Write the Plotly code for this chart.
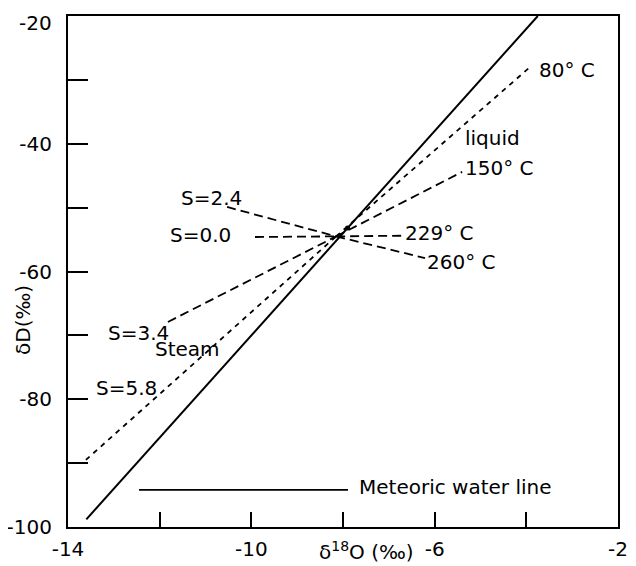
import plotly.graph_objects as go

# ---- data ----
mwl_x = [-13.6, -3.75]
mwl_y = [-98.8, -20.0]

center_x = -8.15
center_y = -54.5
dot_x = [-7.9]
dot_y = [-53.2]

liquid_labels = ["80° C", "150° C", "229° C", "260° C"]
liquid_x = [-3.92, -5.40, -6.71, -6.21]
liquid_y = [-28.0, -44.4, -54.4, -57.9]

steam_labels = ["S=5.8", "S=3.4", "S=0.0", "S=2.4"]
steam_x = [-13.61, -11.82, -9.92, -10.53]
steam_y = [-89.5, -67.9, -54.6, -49.9]

short_dash = [True, False, False, False]   # 80°C / S=5.8 drawn with finer dashes

x_ticks = [-14, -12, -10, -8, -6, -4, -2]
x_ticktext = ["-14", "", "-10", "", "-6", "", "-2"]
y_ticks = [-100, -90, -80, -70, -60, -50, -40, -30, -20]
y_ticktext = ["-100", "", "-80", "", "-60", "", "-40", "", ""]
y_top_label = "-20"   # drawn slightly below the top edge, as in the original

legend_x = [-12.45, -7.89]
legend_y = [-94.2, -94.2]

FONT = "DejaVu Sans"

fig = go.Figure()

# meteoric water line
fig.add_trace(go.Scatter(x=mwl_x, y=mwl_y, mode="lines",
                         line=dict(color="black", width=2), showlegend=False))

SHORT = "5px,5px"
LONG = "9px,5px"
# liquid branches
for lx, ly, sd in zip(liquid_x, liquid_y, short_dash):
    fig.add_trace(go.Scatter(x=[center_x, lx], y=[center_y, ly], mode="lines",
                             line=dict(color="black", width=1.8,
                                       dash=SHORT if sd else LONG),
                             showlegend=False))
# steam branches
for sx, sy, sd in zip(steam_x, steam_y, short_dash):
    fig.add_trace(go.Scatter(x=[sx, center_x], y=[sy, center_y], mode="lines",
                             line=dict(color="black", width=1.8,
                                       dash=SHORT if sd else LONG),
                             showlegend=False))

# intersection dot
fig.add_trace(go.Scatter(x=dot_x, y=dot_y, mode="markers",
                         marker=dict(color="black", size=5), showlegend=False))

# legend sample line
fig.add_trace(go.Scatter(x=legend_x, y=legend_y, mode="lines",
                         line=dict(color="black", width=1.8), showlegend=False))

ann = []
def add(text, x, y, xanchor="center", size=20):
    ann.append(dict(text=text, x=x, y=y, xref="x", yref="y", showarrow=False,
                    xanchor=xanchor, yanchor="middle",
                    font=dict(family=FONT, size=size, color="black")))

add("S=2.4", -10.86, -48.5)
add("S=0.0", -11.12, -54.3)
add("S=3.4", -12.47, -69.6)
add("Steam", -11.40, -72.1)
add("S=5.8", -12.73, -78.2)
add("80° C", -3.77, -28.5, "left")
add("liquid", -5.38, -39.1, "left")
add("150° C", -5.38, -43.8, "left")
add("229° C", -6.69, -54.0, "left")
add("260° C", -6.21, -58.5, "left")
add("Meteoric water line", -7.69, -93.7, "left")

# page body has an 8px margin, so the figure is drawn offset by (8, 8)
OFF = 8
W, H = 636 - OFF, 566 - OFF
ml, mt = 68 - OFF, 16 - OFF
mr = W - (618 - OFF)
mb = H - (527 - OFF)
pw, ph = W - ml - mr, H - mt - mb

def px_to_paper(sx, sy):
    fx, fy = sx - OFF, sy - OFF
    return (fx - ml) / pw, (H - mb - fy) / ph

tx, ty = px_to_paper(23, 320)
ann.append(dict(text="δD(‰)", x=tx, y=ty,
                xref="paper", yref="paper", xanchor="center", yanchor="middle",
                showarrow=False, textangle=-90,
                font=dict(family=FONT, size=20, color="black")))
tx, ty = px_to_paper(366, 551)
ann.append(dict(text="δ<sup>18</sup>O (‰)", x=tx, y=ty,
                xref="paper", yref="paper", xanchor="center", yanchor="middle",
                showarrow=False, font=dict(family=FONT, size=20, color="black")))
tx, ty = px_to_paper(54, 23)
ann.append(dict(text=y_top_label, x=tx, y=ty,
                xref="paper", yref="paper", xanchor="right", yanchor="middle",
                showarrow=False, font=dict(family=FONT, size=20, color="black")))

fig.update_layout(
    width=W, height=H,
    margin=dict(l=ml, r=mr, t=mt, b=mb, autoexpand=False),
    paper_bgcolor="white", plot_bgcolor="white",
    annotations=ann,
    font=dict(family=FONT, color="black"),
    xaxis=dict(range=[-14, -2], tickmode="array", tickvals=x_ticks, ticktext=x_ticktext,
               ticks="inside", ticklen=15, tickwidth=2, tickcolor="black",
               showline=True, linecolor="black", linewidth=2, mirror=True,
               showgrid=False, zeroline=False, ticklabelstandoff=3, automargin=False,
               ticklabeloverflow="allow",
               tickfont=dict(family=FONT, size=20, color="black")),
    yaxis=dict(range=[-100, -20], tickmode="array", tickvals=y_ticks, ticktext=y_ticktext,
               ticks="inside", ticklen=20, tickwidth=2, tickcolor="black",
               showline=True, linecolor="black", linewidth=2, mirror=True,
               showgrid=False, zeroline=False, ticklabelstandoff=10, automargin=False,
               ticklabeloverflow="allow",
               tickfont=dict(family=FONT, size=20, color="black")),
)

fig.write_html("out.html")
